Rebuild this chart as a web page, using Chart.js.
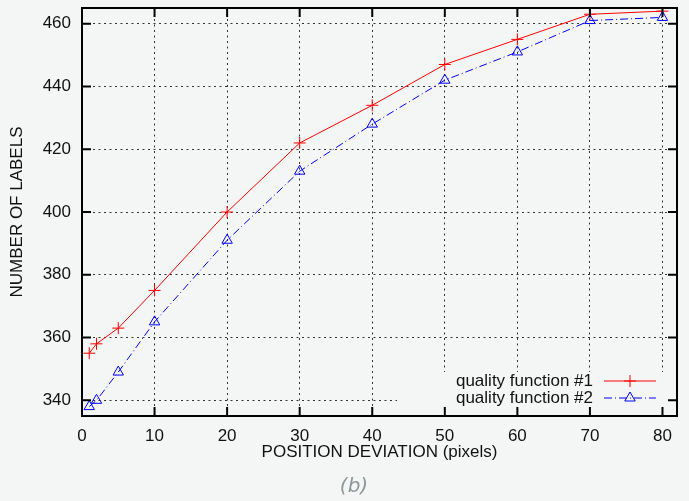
<!DOCTYPE html>
<html>
<head>
<meta charset="utf-8">
<script src="https://cdn.jsdelivr.net/npm/chart.js@4"></script>
<style>
  html, body { margin: 0; padding: 0; background: #f4f6f5; }
  #wrap { width: 689px; height: 501px; }
</style>
</head>
<body>
<div id="wrap"><canvas id="chart" width="689" height="501"></canvas></div>
<script>
var deviation = [1, 2, 5, 10, 20, 30, 40, 50, 60, 70, 80];
var quality1 = [355, 358, 363, 375, 400, 422, 434, 447, 455, 463, 464];
var quality2 = [338, 340, 349, 365, 391, 413, 428, 442, 451, 461, 462];
var xTicks = [0, 10, 20, 30, 40, 50, 60, 70, 80];
var yTicks = [340, 360, 380, 400, 420, 440, 460];
var caption = '(b)';

var bg = '#f4f6f5';
var font = '"Liberation Sans", Arial, Helvetica, sans-serif';

function toPoints(ys) {
    return deviation.map(function(x, i) { return { x: x, y: ys[i] }; });
}

function drawMarker(ctx, style, x, y, r) {
    ctx.beginPath();
    if (style === 'cross') {
        ctx.moveTo(x - r, y); ctx.lineTo(x + r, y);
        ctx.moveTo(x, y - r); ctx.lineTo(x, y + r);
    } else {
        ctx.moveTo(x, y - r);
        ctx.lineTo(x + r * 0.866, y + r * 0.5);
        ctx.lineTo(x - r * 0.866, y + r * 0.5);
        ctx.closePath();
    }
    ctx.stroke();
}

// legend box, frame, inward tick marks and caption like the gnuplot original
var framePlugin = {
    id: 'frame',
    beforeDatasetsDraw: function(chart) {
        var a = chart.chartArea, ctx = chart.ctx;
        ctx.save();
        ctx.fillStyle = bg;
        ctx.fillRect(397, 372, a.right - 397, a.bottom - 372);
        ctx.restore();
    },
    afterDraw: function(chart) {
        var a = chart.chartArea, ctx = chart.ctx;
        var xs = chart.scales.x, ys = chart.scales.y;
        var len = 9;
        ctx.save();
        ctx.strokeStyle = '#000';
        ctx.lineWidth = 2;
        ctx.beginPath();
        xTicks.forEach(function(v) {
            var px = xs.getPixelForValue(v);
            ctx.moveTo(px, a.bottom); ctx.lineTo(px, a.bottom - len);
            ctx.moveTo(px, a.top); ctx.lineTo(px, a.top + len);
        });
        yTicks.forEach(function(v) {
            var py = ys.getPixelForValue(v);
            ctx.moveTo(a.left, py); ctx.lineTo(a.left + len, py);
            ctx.moveTo(a.right, py); ctx.lineTo(a.right - len, py);
        });
        ctx.stroke();
        ctx.strokeRect(a.left, a.top, a.right - a.left, a.bottom - a.top);

        // legend
        ctx.font = '17px ' + font;
        ctx.textAlign = 'right';
        ctx.textBaseline = 'middle';
        ctx.lineWidth = 1;
        chart.data.datasets.forEach(function(ds, i) {
            var y = 381 + i * 17;
            ctx.fillStyle = '#111';
            ctx.fillText(ds.label, 593, y);
            ctx.strokeStyle = ds.borderColor;
            ctx.setLineDash(ds.borderDash || []);
            ctx.beginPath();
            ctx.moveTo(604, y); ctx.lineTo(656, y);
            ctx.stroke();
            ctx.setLineDash([]);
            drawMarker(ctx, ds.pointStyle === 'cross' ? 'cross' : 'triangle', 630, y, 6);
        });

        // caption
        ctx.font = 'italic 20px "DejaVu Sans", sans-serif';
        ctx.textAlign = 'center';
        ctx.fillStyle = '#8a9898';
        ctx.fillText(caption, 354, 487);
        ctx.restore();
    }
};

var ctx = document.getElementById('chart').getContext('2d');
var chart = new Chart(ctx, {
    type: 'line',
    data: {
        datasets: [{
            label: 'quality function #1',
            data: toPoints(quality1),
            borderColor: '#ff0000',
            borderWidth: 1,
            pointStyle: 'cross',
            pointRadius: 6,
            pointBorderWidth: 1,
            pointBorderColor: '#ff0000',
            pointBackgroundColor: 'transparent',
            tension: 0
        }, {
            label: 'quality function #2',
            data: toPoints(quality2),
            borderColor: '#0000ff',
            borderWidth: 1,
            borderDash: [8, 3, 1, 3],
            pointStyle: 'triangle',
            pointRadius: 6,
            pointBorderWidth: 1,
            pointBorderColor: '#0000ff',
            pointBackgroundColor: 'transparent',
            tension: 0
        }]
    },
    options: {
        responsive: false,
        animation: false,
        layout: { padding: { top: 8, right: 12, left: 0, bottom: 39 } },
        plugins: {
            legend: { display: false },
            tooltip: { enabled: false }
        },
        scales: {
            x: {
                type: 'linear',
                min: 0,
                max: 82,
                afterBuildTicks: function(s) { s.ticks = xTicks.map(function(v) { return { value: v }; }); },
                afterFit: function(s) { s.height = 46; s.paddingLeft = 0; s.paddingRight = 0; },
                grid: { color: '#333', lineWidth: 1, drawTicks: false, tickLength: 0 },
                border: { display: false, dash: [2, 3.5] },
                ticks: { color: '#111', padding: 12, maxRotation: 0, font: { family: font, size: 17, lineHeight: 1 } },
                title: {
                    display: true,
                    text: 'POSITION DEVIATION (pixels)',
                    color: '#111',
                    font: { family: font, size: 17, lineHeight: 1 },
                    padding: { top: 0, bottom: 1 }
                }
            },
            y: {
                min: 335,
                max: 465,
                afterBuildTicks: function(s) { s.ticks = yTicks.map(function(v) { return { value: v }; }); },
                afterFit: function(s) { s.width = 82; s.paddingTop = 0; s.paddingBottom = 0; },
                grid: { color: '#333', lineWidth: 1, drawTicks: false, tickLength: 0 },
                border: { display: false, dash: [2, 3.5] },
                ticks: { color: '#111', padding: 11, font: { family: font, size: 17, lineHeight: 1 } },
                title: {
                    display: true,
                    text: 'NUMBER OF LABELS',
                    color: '#111',
                    font: { family: font, size: 17, lineHeight: 1 },
                    padding: { top: 9, bottom: 0 }
                }
            }
        }
    },
    plugins: [framePlugin]
});
</script>
</body>
</html>
